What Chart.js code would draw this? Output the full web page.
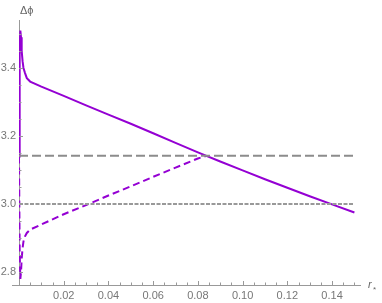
<!DOCTYPE html>
<html>
<head>
<meta charset="utf-8">
<script src="https://cdn.jsdelivr.net/npm/chart.js@4"></script>
<style>
  html, body { margin: 0; padding: 0; background: #fff; }
  #wrap { width: 382px; height: 303px; }
</style>
</head>
<body>
<div id="wrap"><canvas id="chart" width="382" height="303"></canvas></div>
<script>
// solid branch
const xSolid = [0, 0.0003, 0.0006, 0.0009, 0.0012, 0.0016, 0.002, 0.0027, 0.0035, 0.005,
  0.01, 0.02, 0.03, 0.04, 0.05, 0.06, 0.07, 0.08, 0.09, 0.10, 0.11, 0.12, 0.13, 0.14, 0.15];
const ySolid = [3.14, 3.47, 3.51, 3.49, 3.45, 3.42, 3.40, 3.385, 3.37, 3.36,
  3.345, 3.318, 3.290, 3.263, 3.236, 3.208, 3.180, 3.152, 3.125, 3.099, 3.073, 3.048, 3.023, 2.999, 2.975];

// dashed branch
const xDashed = [0, 0.0003, 0.0006, 0.0009, 0.0012, 0.0016, 0.002, 0.0027, 0.0035, 0.005,
  0.01, 0.02, 0.03, 0.04, 0.05, 0.06, 0.07, 0.08, 0.0838];
const yDashed = [3.14, 2.86, 2.78, 2.80, 2.84, 2.87, 2.89, 2.905, 2.915, 2.925,
  2.94, 2.97, 2.997, 3.025, 3.052, 3.08, 3.107, 3.134, 3.1416];

// reference lines
const refX = [0, 0.15];
const piLevel = Math.PI;
const threeLevel = 3.0;

// ticks
const xMajor = [0.02, 0.04, 0.06, 0.08, 0.10, 0.12, 0.14];
const yMajor = [2.8, 3.0, 3.2, 3.4];
const xMinorStep = 0.005;
const yMinorStep = 0.05;

const purple = '#9400d3';

function pts(xs, ys) {
  return xs.map((x, i) => ({ x: x, y: ys[i] }));
}

function isMajor(v, list) {
  return list.some(m => Math.abs(m - v) < 1e-9);
}

function minorTicks(min, max, step) {
  const out = [];
  for (let v = Math.ceil(min / step) * step; v <= max + 1e-9; v += step) {
    out.push({ value: Math.round(v * 10000) / 10000 });
  }
  return out;
}

// ticks inward like Mathematica, plus axis labels
const axisDeco = {
  id: 'axisDeco',
  afterDraw(chart) {
    const ctx = chart.ctx;
    const xs = chart.scales.x, ys = chart.scales.y;
    const area = chart.chartArea;
    ctx.save();
    ctx.strokeStyle = '#999';
    ctx.lineWidth = 1;
    ctx.beginPath();
    // small stub of the x axis left of the origin
    ctx.moveTo(area.left - 7, area.bottom + 0.5);
    ctx.lineTo(area.left, area.bottom + 0.5);
    xs.ticks.forEach(t => {
      if (t.value <= 0) return;
      const px = Math.round(xs.getPixelForValue(t.value)) + 0.5;
      const len = isMajor(t.value, xMajor) ? 4 : 2.5;
      ctx.moveTo(px, area.bottom);
      ctx.lineTo(px, area.bottom - len);
    });
    ys.ticks.forEach(t => {
      const py = Math.round(ys.getPixelForValue(t.value)) + 0.5;
      const len = isMajor(t.value, yMajor) ? 4 : 2.5;
      ctx.moveTo(area.left, py);
      ctx.lineTo(area.left + len, py);
    });
    ctx.stroke();

    ctx.fillStyle = '#666';
    ctx.font = '11px "Liberation Sans", sans-serif';
    ctx.textBaseline = 'alphabetic';
    ctx.textAlign = 'left';
    ctx.fillText('\u0394\u03d5', 20, 14);
    ctx.font = 'italic 11px "Liberation Sans", sans-serif';
    ctx.fillText('r', 368, 288);
    ctx.font = '8px "Liberation Sans", sans-serif';
    ctx.fillText('*', 373, 292);
    ctx.restore();
  }
};

new Chart(document.getElementById('chart'), {
  type: 'scatter',
  data: {
    datasets: [
      {
        data: pts(refX, [piLevel, piLevel]),
        showLine: true, borderColor: '#8c8c8c', borderWidth: 2,
        borderDash: [9, 4], pointRadius: 0
      },
      {
        data: pts(refX, [threeLevel, threeLevel]),
        showLine: true, borderColor: '#999', borderWidth: 2,
        borderDash: [4, 1.5], pointRadius: 0
      },
      {
        data: pts(xDashed, yDashed),
        showLine: true, borderColor: purple, borderWidth: 2,
        borderDash: [7, 4], pointRadius: 0, tension: 0
      },
      {
        data: pts(xSolid, ySolid),
        showLine: true, borderColor: purple, borderWidth: 2,
        pointRadius: 0, tension: 0
      }
    ]
  },
  options: {
    responsive: false,
    animation: false,
    layout: { padding: { top: 20, right: 22, left: 0, bottom: 0 } },
    plugins: { legend: { display: false }, tooltip: { enabled: false } },
    scales: {
      x: {
        type: 'linear',
        min: 0,
        max: 0.1525,
        afterFit: s => { s.height = 18; },
        afterBuildTicks: s => { s.ticks = minorTicks(0, 0.1525, xMinorStep); },
        grid: { display: false, drawTicks: false },
        border: { display: true, color: '#999', width: 1 },
        ticks: {
          autoSkip: false,
          maxRotation: 0,
          padding: 4,
          color: '#777',
          font: { family: 'Liberation Sans', size: 11 },
          callback: v => (isMajor(v, xMajor) ? v.toFixed(2) : '')
        }
      },
      y: {
        type: 'linear',
        min: 2.762,
        max: 3.541,
        afterFit: s => { s.width = 19; },
        afterBuildTicks: s => { s.ticks = minorTicks(2.762, 3.541, yMinorStep); },
        grid: { display: false, drawTicks: false },
        border: { display: true, color: '#999', width: 1 },
        ticks: {
          autoSkip: false,
          padding: 3,
          color: '#777',
          font: { family: 'Liberation Sans', size: 11 },
          callback: v => (isMajor(v, yMajor) ? v.toFixed(1) : '')
        }
      }
    }
  },
  plugins: [axisDeco]
});
</script>
</body>
</html>
